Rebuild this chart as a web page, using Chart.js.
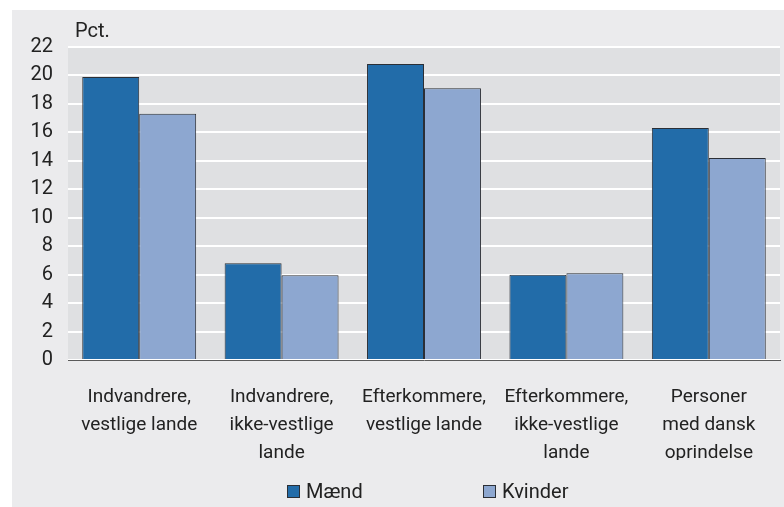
<!DOCTYPE html>
<html>
<head>
<meta charset="utf-8">
<script src="https://cdn.jsdelivr.net/npm/chart.js@4/dist/chart.umd.min.js"></script>
<style>
  html, body { margin: 0; padding: 0; background: #ffffff; }
  #wrap { position: relative; width: 784px; height: 507px; }
  canvas { position: absolute; left: 0; top: 0; }
  #legend { position: absolute; top: 478px; left: 0; width: 784px; height: 26px; font-family: Roboto, "Open Sans", sans-serif; font-size: 20px; color: #222; }
  .item { position: absolute; top: 0; display: flex; align-items: center; height: 26px; }
  .box { width: 13px; height: 13px; box-sizing: border-box; border: 1px solid #2b2f36; margin-right: 6px; }
</style>
</head>
<body>
<div id="wrap">
  <canvas id="c" width="784" height="507"></canvas>
  <div id="legend"></div>
</div>
<script>
const categories = [
  ["Indvandrere,", "vestlige lande"],
  ["Indvandrere,", "ikke-vestlige", "lande"],
  ["Efterkommere,", "vestlige lande"],
  ["Efterkommere,", "ikke-vestlige", "lande"],
  ["Personer", "med dansk", "oprindelse"]
];
const seriesNames = ["Mænd", "Kvinder"];
const maend = [19.9, 6.8, 20.8, 6.0, 16.3];
const kvinder = [17.3, 5.95, 19.1, 6.1, 14.2];
const unitLabel = "Pct.";
const yMax = 22;
const yStep = 2;

const FONT = 'Roboto, "Open Sans", sans-serif';
const FSIZE = 19;
const colors = ["#226ca9", "#8da7d0"];

const bgPlugin = {
  id: 'bg',
  beforeDraw(chart) {
    const ctx = chart.ctx;
    const a = chart.chartArea;
    ctx.save();
    ctx.fillStyle = '#ffffff';
    ctx.fillRect(0, 0, chart.width, chart.height);
    ctx.fillStyle = '#ebebed';
    ctx.fillRect(12, 10, chart.width - 12, chart.height - 10);
    ctx.fillStyle = '#dfe0e2';
    ctx.fillRect(a.left, a.top, a.right - a.left, a.bottom - a.top);
    ctx.restore();
  },
  afterDraw(chart) {
    const ctx = chart.ctx;
    const a = chart.chartArea;
    ctx.save();
    ctx.fillStyle = '#222';
    ctx.font = '20px ' + FONT;
    ctx.textBaseline = 'alphabetic';
    ctx.textAlign = 'left';
    ctx.fillText(unitLabel, a.left + 7, a.top - 10);
    ctx.restore();
  }
};

const chart = new Chart(document.getElementById('c'), {
  type: 'bar',
  data: {
    labels: categories,
    datasets: [
      { label: seriesNames[0], data: maend, backgroundColor: colors[0], borderColor: '#2b2f36', borderWidth: 1, categoryPercentage: 0.8, barPercentage: 1.0 },
      { label: seriesNames[1], data: kvinder, backgroundColor: colors[1], borderColor: '#2b2f36', borderWidth: 1, categoryPercentage: 0.8, barPercentage: 1.0 }
    ]
  },
  options: {
    responsive: false,
    animation: false,
    devicePixelRatio: 1,
    layout: { padding: { top: 47, right: 4, bottom: 47, left: 0 } },
    plugins: {
      legend: { display: false },
      tooltip: { enabled: false }
    },
    scales: {
      x: {
        grid: { display: false, drawTicks: false },
        border: { display: true, color: '#5a5a5a', width: 1 },
        ticks: { font: { family: FONT, size: FSIZE, lineHeight: 1.47 }, color: '#222', padding: 23, maxRotation: 0, autoSkip: false },
        afterFit(scale) { scale.height = 100; }
      },
      y: {
        min: 0, max: yMax,
        grid: { color: '#ffffff', lineWidth: 2, drawTicks: false },
        border: { display: false },
        ticks: { stepSize: yStep, font: { family: FONT, size: 20 }, color: '#222', padding: 15 },
        afterFit(scale) { scale.width = 68; }
      }
    }
  },
  plugins: [bgPlugin]
});

// legend built from the datasets
const legend = document.getElementById('legend');
const lefts = [287, 483];
chart.data.datasets.forEach((ds, i) => {
  const it = document.createElement('div');
  it.className = 'item';
  it.style.left = lefts[i] + 'px';
  const b = document.createElement('span');
  b.className = 'box';
  b.style.background = ds.backgroundColor;
  const t = document.createElement('span');
  t.textContent = ds.label;
  it.appendChild(b); it.appendChild(t);
  legend.appendChild(it);
});
</script>
</body>
</html>
